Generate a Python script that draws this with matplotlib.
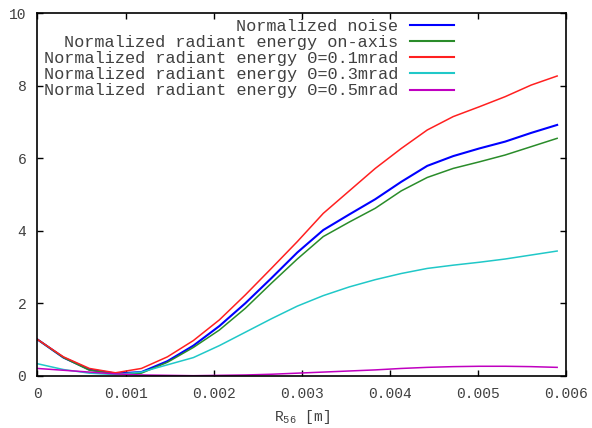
import numpy as np
import matplotlib
matplotlib.use("Agg")
import matplotlib.pyplot as plt

# R56 scan points [m]
r56 = [0.0, 0.000295, 0.00059, 0.000885, 0.00118, 0.001475, 0.00177, 0.002065,
       0.00236, 0.002655, 0.00295, 0.003245, 0.00354, 0.003835, 0.00413,
       0.004425, 0.00472, 0.005015, 0.00531, 0.005605, 0.0059]

noise = [1.0, 0.5, 0.17, 0.06, 0.10, 0.40, 0.83, 1.37, 2.0, 2.69, 3.40, 4.02,
         4.45, 4.87, 5.35, 5.79, 6.06, 6.27, 6.46, 6.70, 6.92]
on_axis = [1.0, 0.5, 0.15, 0.05, 0.07, 0.37, 0.78, 1.26, 1.86, 2.55, 3.22, 3.84,
           4.24, 4.62, 5.10, 5.47, 5.72, 5.90, 6.09, 6.32, 6.55]
theta_01 = [1.0, 0.52, 0.20, 0.08, 0.20, 0.52, 0.97, 1.54, 2.23, 2.96, 3.70, 4.48,
            5.10, 5.72, 6.27, 6.78, 7.15, 7.42, 7.70, 8.02, 8.27]
theta_03 = [0.33, 0.17, 0.07, 0.03, 0.10, 0.30, 0.50, 0.83, 1.20, 1.57, 1.92, 2.21,
            2.45, 2.65, 2.82, 2.96, 3.05, 3.13, 3.22, 3.33, 3.44]
theta_05 = [0.20, 0.15, 0.10, 0.05, 0.02, 0.01, 0.0, 0.01, 0.02, 0.04, 0.07, 0.10,
            0.13, 0.16, 0.20, 0.23, 0.25, 0.26, 0.26, 0.25, 0.23]

labels = ["Normalized noise",
          "Normalized radiant energy on-axis",
          "Normalized radiant energy Θ=0.1mrad",
          "Normalized radiant energy Θ=0.3mrad",
          "Normalized radiant energy Θ=0.5mrad"]
series = [noise, on_axis, theta_01, theta_03, theta_05]
colors = ["#0000ff", "#2a8c2a", "#ff2020", "#20c8c8", "#c000c0"]
widths = [1.5, 1.1, 1.1, 1.1, 1.1]

xticks = [0, 0.001, 0.002, 0.003, 0.004, 0.005, 0.006]
xticklabels = ["0", "0.001", "0.002", "0.003", "0.004", "0.005", "0.006"]
yticks = [0, 2, 4, 6, 8, 10]

plt.rcParams["font.family"] = ["Liberation Mono", "DejaVu Sans"]
plt.rcParams["mathtext.fontset"] = "custom"
plt.rcParams["mathtext.rm"] = "Liberation Mono"

fig = plt.figure(figsize=(5.92, 4.28), dpi=100)
ax = fig.add_axes([0.0633, 0.1222, 0.8927, 0.8467])

for y, lab, c, w in zip(series, labels, colors, widths):
    ax.plot(r56, y, color=c, lw=w, label=lab)

ax.set_xlim(0, 0.006)
ax.set_ylim(0, 10)
ax.set_xticks(xticks)
ax.set_xticklabels(xticklabels)
ax.set_yticks(yticks)
ax.tick_params(direction="in", length=4.5, width=1, top=True, right=True,
               labelsize=10.5, labelcolor="#404040", color="black", pad=8)
for s in ax.spines.values():
    s.set_linewidth(1.2)
    s.set_color("black")

ax.set_xlabel(r"R$_{\mathrm{56}}$ [m]", fontsize=10.5, color="#404040", labelpad=5)

leg = ax.legend(loc="upper right", bbox_to_anchor=(0.788, 0.985),
                markerfirst=False, frameon=False, fontsize=12.2,
                handlelength=2.6, handletextpad=0.7, labelspacing=0.07,
                borderaxespad=0, borderpad=0)
for t in leg.get_texts():
    t.set_color("#404040")
for h in leg.get_lines():
    h.set_linewidth(1.5)

fig.savefig("out.png", dpi=100)
